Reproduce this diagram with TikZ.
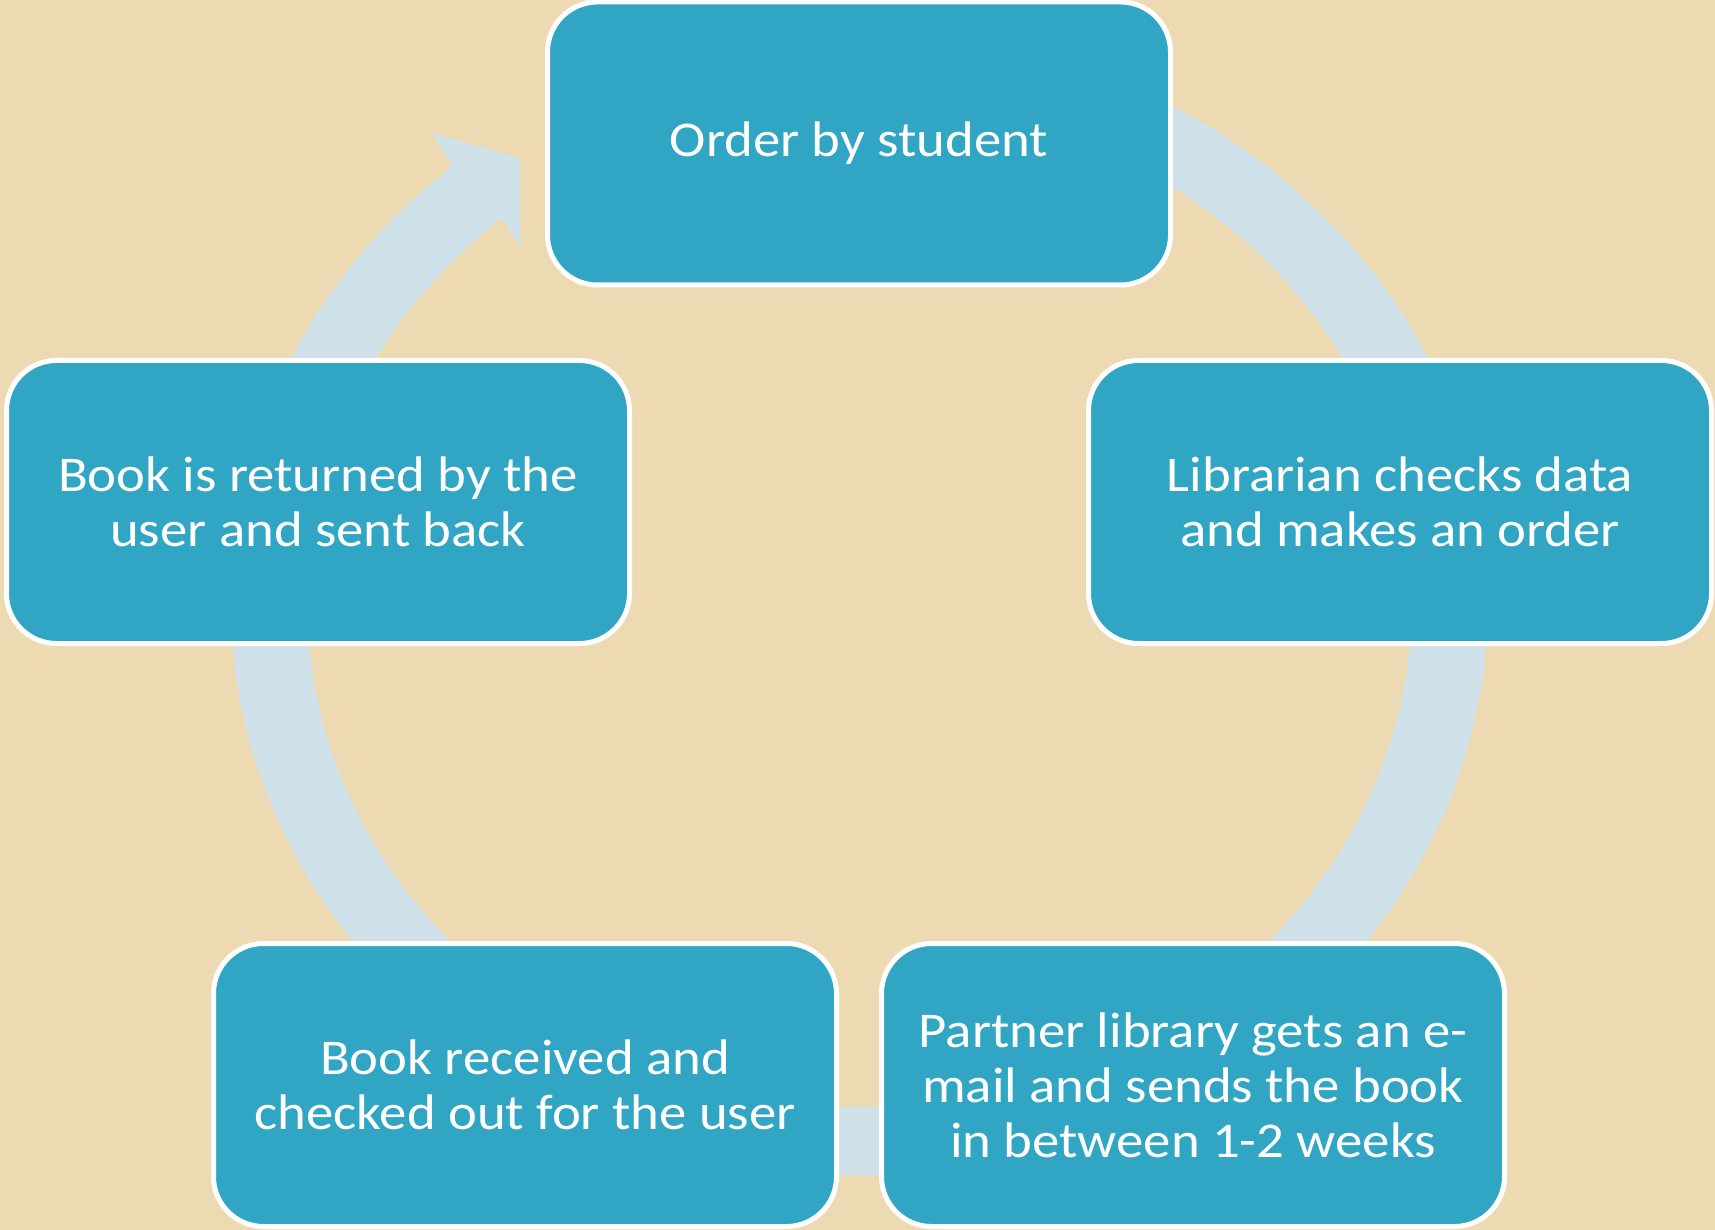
\documentclass[tikz,border=0pt]{standalone}
\usepackage{fontspec}
\setmainfont{Carlito}[FakeStretch=1.095]
\usetikzlibrary{calc}
\definecolor{bgc}{HTML}{EEDAB2}
\definecolor{boxc}{HTML}{31A6C4}
\definecolor{ringc}{HTML}{CFE1E9}
\begin{document}
\begin{tikzpicture}[x=0.5pt,y=-0.5pt,
  stepbox/.style={draw=white, line width=2.5pt, fill=boxc, rounded corners=25pt,
    minimum width=311.5pt, minimum height=141.5pt, text=white, align=center,
    inner sep=0pt, font=\fontsize{25pt}{27.5pt}\selectfont},
  ringfill/.style={fill=ringc}]
\useasboundingbox (0,0) rectangle (1715,1230);
\fill[bgc] (0,0) rectangle (1715,1230);
\coordinate (c) at (859.5,602.5);
\coordinate (tipA) at (432,133);
\coordinate (tipB) at (520,158);
\coordinate (tipC) at (520,247);
\fill[ringfill] ($(c)+(-80:628.5 and 572.5)$)
  arc[start angle=-80, end angle=229.6, x radius=628.5, y radius=572.5]
  -- (tipA) -- (tipB) -- (tipC)
  -- ($(c)+(229.6:552.3 and 504.5)$)
  arc[start angle=229.6, end angle=-80, x radius=552.3, y radius=504.5]
  -- cycle;
\node[stepbox] (n1) at (859,143.5) {Order by student};
\node[stepbox] (n2) at (1400,502) {Librarian checks data\\and makes an order};
\node[stepbox] (n3) at (1193,1085) {Partner library gets an e-\\mail and sends the book\\in between 1-2 weeks};
\node[stepbox] (n4) at (525,1085) {Book received and\\checked out for the user};
\node[stepbox] (n5) at (318,502) {Book is returned by the\\user and sent back};
\end{tikzpicture}
\end{document}
